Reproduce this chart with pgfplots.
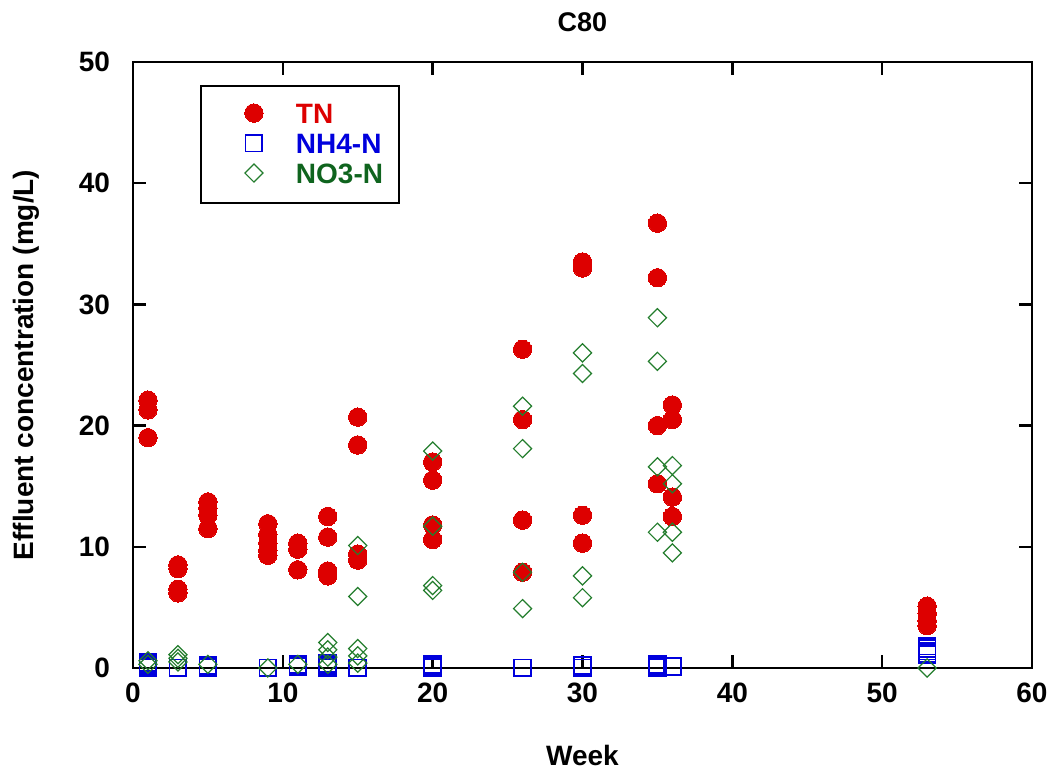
\documentclass[border=0pt]{standalone}
\usepackage{fontspec}
\setmainfont{Liberation Sans}
\usepackage{pgfplots}
\pgfplotsset{compat=1.18}
\definecolor{tnred}{RGB}{221,0,0}
\definecolor{nhblue}{RGB}{0,0,221}
\definecolor{nogreen}{RGB}{35,125,45}
\definecolor{notext}{RGB}{15,100,30}
\begin{document}
\begin{tikzpicture}
\begin{axis}[
  scale only axis, width=449.5pt, height=303pt,
  xmin=0, xmax=60, ymin=0, ymax=50,
  xtick={0,10,...,60}, ytick={0,10,...,50},
  minor tick num=0,
  tick align=inside, major tick length=6.5pt,
  axis line style={line width=1.2pt},
  every tick/.style={line width=1.2pt, black},
  /pgf/number format/assume math mode=true,
  tick label style={font=\fontsize{14}{16}\selectfont\bfseries},
  xticklabel style={yshift=-4pt},
  yticklabel style={xshift=-8pt},
  title={\fontsize{13.5}{15}\selectfont\bfseries C80},
  title style={at={(axis description cs:0.5,1.046)}, anchor=center},
  xlabel={\fontsize{14}{16}\selectfont\bfseries Week},
  xlabel style={at={(axis description cs:0.5,-0.1436)}, anchor=center},
  ylabel={\fontsize{14}{16}\selectfont\bfseries Effluent concentration (mg/L)},
  ylabel style={at={(axis description cs:-0.119,0.5)}, anchor=center, rotate=0},
  legend image code/.code={\path[draw=none,fill=none] (-18.5pt,0pt) rectangle (21pt,10pt); \draw[#1] plot coordinates {(0pt,5pt)};},
  legend style={at={(axis description cs:0.0745,0.962)}, anchor=north west,
    draw=black, line width=1pt, inner xsep=8pt, inner ysep=8.5pt,
    nodes={inner sep=0pt, anchor=base west}, row sep=3.5pt,
    font=\fontsize{14}{16}\selectfont\bfseries},
  legend cell align=left,
]
\addplot[only marks, mark=*, mark size=4.6pt, color=tnred, mark options={fill=tnred, draw=tnred, line width=0pt}] coordinates {
(1,22.1)(1,21.3)(1,19.0)
(3,8.5)(3,8.2)(3,6.5)(3,6.2)
(5,13.7)(5,13.2)(5,12.6)(5,11.5)
(9,11.9)(9,11.0)(9,10.3)(9,9.7)(9,9.3)
(11,10.3)(11,9.8)(11,8.1)
(13,12.5)(13,10.8)(13,8.0)(13,7.6)
(15,20.7)(15,18.4)(15,9.4)(15,8.9)
(20,17.0)(20,15.5)(20,11.8)(20,10.6)
(26,26.3)(26,20.5)(26,12.2)(26,7.9)
(30,33.5)(30,33.0)(30,12.6)(30,10.3)
(35,36.7)(35,32.2)(35,20.0)(35,15.2)
(36,21.7)(36,20.5)(36,14.1)(36,12.5)
(53,5.1)(53,4.5)(53,3.9)(53,3.5)
};
\addlegendentry{\textcolor{tnred}{TN}}
\addplot[only marks, mark=square, mark size=4.2pt, color=nhblue, mark options={line width=0.9pt, draw=nhblue, fill=none}] coordinates {
(1,0.0)(1,0.15)(1,0.3)(1,0.45)
(3,0.0)
(5,0.0)(5,0.1)(5,0.2)
(9,0.0)
(11,0.1)(11,0.2)(11,0.3)
(13,0.0)(13,0.1)(13,0.25)(13,0.4)
(15,0.0)
(20,0.0)(20,0.15)(20,0.3)
(26,0.0)
(30,0.0)(30,0.2)
(35,0.0)(35,0.15)(35,0.3)
(36,0.1)
(53,1.8)(53,1.6)(53,1.4)(53,1.2)(53,1.1)
};
\addlegendentry{\textcolor{nhblue}{NH4-N}}
\addplot[only marks, mark=square, mark size=3.2pt, color=nogreen, mark options={rotate=45, line width=0.6pt, draw=nogreen, fill=none}] coordinates {
(1,0.6)(1,0.3)
(3,1.1)(3,0.8)(3,0.5)
(5,0.3)
(9,0.0)
(11,0.3)
(13,2.1)(13,1.5)(13,0.9)(13,0.3)
(15,10.1)(15,5.9)(15,1.6)(15,1.0)(15,0.4)
(20,17.9)(20,11.7)(20,6.8)(20,6.4)
(26,21.6)(26,18.1)(26,7.9)(26,4.9)
(30,26.0)(30,24.3)(30,7.6)(30,5.8)
(35,28.9)(35,25.3)(35,16.6)(35,11.2)
(36,16.7)(36,15.2)(36,11.2)(36,9.5)
(53,0.0)
};
\addlegendentry{\textcolor{notext}{NO3-N}}
\end{axis}
\pgfresetboundingbox
\path[use as bounding box] (current axis.south west) ++(-66.5pt,-53.5pt) rectangle ++(525.5pt,387.5pt);
\end{tikzpicture}
\end{document}
